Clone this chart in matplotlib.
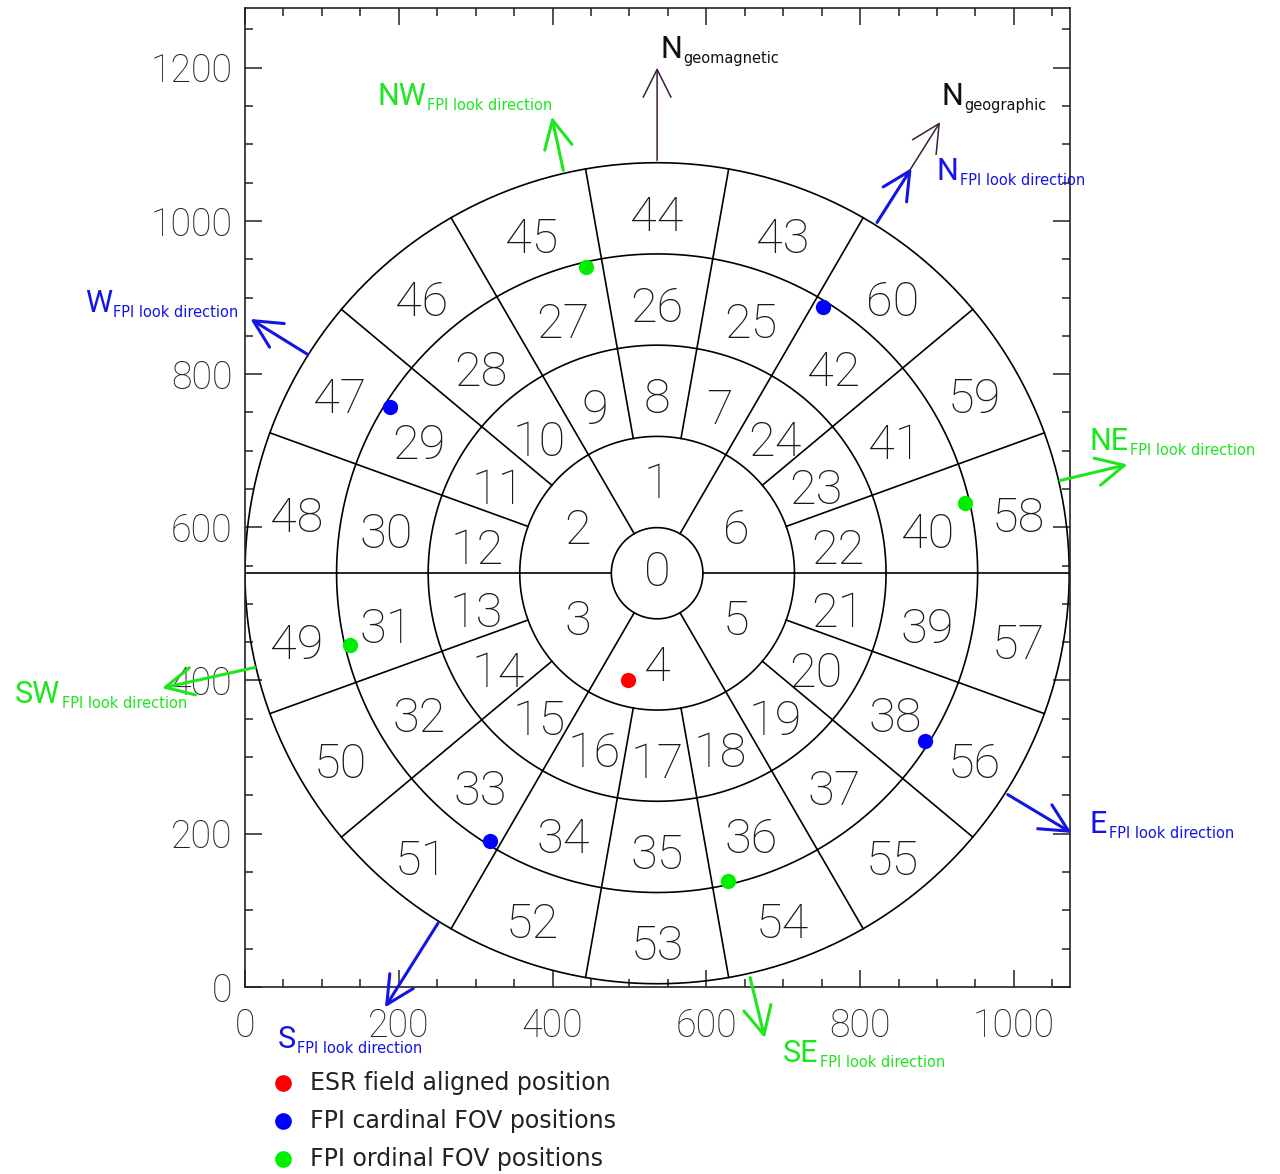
import numpy as np
import matplotlib
matplotlib.use("Agg")
import matplotlib.pyplot as plt
from matplotlib.ticker import MultipleLocator

plt.rcParams['font.family'] = ['Roboto', 'DejaVu Sans']

# grid geometry: centre, outer radius, ring edges in units of R/9
centre_x, centre_y = 536, 540
outer_r = 536
ring_edges = [1, 3, 5, 7, 9]
ring_sectors = [1, 6, 18, 18, 18]
ring_first_id = [0, 1, 7, 25, 43]
ring_first_angle = [0, 90, 70, 70, 70]
ring_label_drop = [0, 3, 9, 9, 9]   # px, labels sit a little low in the outer rings

# FOV positions
esr_x, esr_y = [498], [401]
cardinal_x = [752, 189, 319, 884]
cardinal_y = [888, 757, 190, 321]
ordinal_x = [444, 137, 628, 936]
ordinal_y = [940, 446, 138, 632]

# look-direction arrows: (tail x, tail y, tip x, tip y)
fpi_names = ['N', 'W', 'S', 'E', 'NW', 'SW', 'SE', 'NE']
fpi_tail = [(822, 998), (81, 826), (251, 83), (992, 251),
            (414, 1066), (13, 417), (657, 12), (1060, 661)]
fpi_tip = [(867, 1069), (7, 872), (182, -27), (1075, 201),
           (399, 1136), (-108, 390), (676, -67), (1148, 682)]
fpi_label_xy = [(900, 1053), (-208, 881), (42, -80), (1099, 201),
                (172, 1151), (-299, 371), (700, -98), (1099, 701)]

geomag_tail, geomag_tip = (536, 1079), (536, 1200)
geog_tail, geog_tip = (822, 998), (904, 1129)

BLUE = '#1414e6'
GREEN = '#1ee61e'
PURPLE = '#3a1f3a'

fig = plt.figure(figsize=(12.8, 11.74), dpi=100)
ax = fig.add_axes([245 / 1280, 1 - 986.8 / 1174, 825 / 1280, 978.8 / 1174])
ax.set_xlim(0, 1073)
ax.set_ylim(0, 1278)

unit = outer_r / 9.0
theta = np.linspace(0, 2 * np.pi, 721)
for r in ring_edges:
    ax.plot(centre_x + r * unit * np.cos(theta), centre_y + r * unit * np.sin(theta),
            color='black', lw=1.2)


def sector_label(x, y, txt, drop):
    ax.annotate(txt, xy=(x, y), xytext=(0, -drop * 0.72), textcoords='offset points',
                fontsize=35, fontweight='light', ha='center', va='center',
                color='#1a1a1a')


# sector boundaries and numbers
for i in range(1, len(ring_edges)):
    r0, r1 = ring_edges[i - 1] * unit, ring_edges[i] * unit
    n = ring_sectors[i]
    step = 360.0 / n
    for k in range(n):
        a = np.radians(ring_first_angle[i] + step / 2 + k * step)
        ax.plot([centre_x + r0 * np.cos(a), centre_x + r1 * np.cos(a)],
                [centre_y + r0 * np.sin(a), centre_y + r1 * np.sin(a)],
                color='black', lw=1.2)
    rm = 0.5 * (r0 + r1)
    for k in range(n):
        a = np.radians(ring_first_angle[i] + k * step)
        sector_label(centre_x + rm * np.cos(a), centre_y + rm * np.sin(a),
                     str(ring_first_id[i] + k), ring_label_drop[i])
sector_label(centre_x, centre_y, str(ring_first_id[0]), ring_label_drop[0])

ax.plot(esr_x, esr_y, 'o', color='#ff0000', ms=11, mec='none')
ax.plot(cardinal_x, cardinal_y, 'o', color='#0000ff', ms=11, mec='none')
ax.plot(ordinal_x, ordinal_y, 'o', color='#00ee00', ms=11, mec='none')


def arrow(tail, tip, color, lw):
    ax.annotate('', xy=tip, xytext=tail, annotation_clip=False,
                arrowprops=dict(arrowstyle='->,head_length=1.0,head_width=0.5',
                                mutation_scale=20, color=color, lw=lw,
                                shrinkA=0, shrinkB=0))


def label(xy, main, sub, color):
    t = ax.text(xy[0], xy[1], main, fontsize=22, fontweight='normal',
                color=color, ha='left', va='baseline', clip_on=False)
    ax.annotate(sub, xy=(1, 0), xycoords=t, xytext=(1, -1.5), textcoords='offset points',
                fontsize=10.5, family='DejaVu Sans', color=color,
                ha='left', va='bottom', annotation_clip=False)


arrow(geog_tail, geog_tip, PURPLE, 1.1)
arrow(geomag_tail, geomag_tip, PURPLE, 1.1)
for name, tail, tip, lxy in zip(fpi_names, fpi_tail, fpi_tip, fpi_label_xy):
    col = BLUE if len(name) == 1 else GREEN
    arrow(tail, tip, col, 2.2)
    label(lxy, name, 'FPI look direction', col)

label((540, 1213), 'N', 'geomagnetic', '#111111')
label((906, 1151), 'N', 'geographic', '#111111')

# axes styling
ax.xaxis.set_major_locator(MultipleLocator(200))
ax.xaxis.set_minor_locator(MultipleLocator(50))
ax.yaxis.set_major_locator(MultipleLocator(200))
ax.yaxis.set_minor_locator(MultipleLocator(50))
ax.tick_params(which='both', direction='in', top=True, right=True,
               color='#222222', width=1.1)
ax.tick_params(which='major', length=12, labelsize=27, colors='#222222')
ax.tick_params(axis='x', which='major', pad=15)
ax.tick_params(axis='y', which='major', pad=9)
ax.tick_params(which='minor', length=6)
for lab in ax.get_xticklabels() + ax.get_yticklabels():
    lab.set_fontweight('light')
for s in ax.spines.values():
    s.set_linewidth(1.2)
    s.set_color('#222222')

# key below the plot
key_items = [('#ff0000', 'ESR field aligned position'),
             ('#0000ff', 'FPI cardinal FOV positions'),
             ('#00ee00', 'FPI ordinal FOV positions')]
for i, (c, txt) in enumerate(key_items):
    yk = -126 - 49.6 * i
    ax.plot([49], [yk], 'o', color=c, ms=12, mec='none', clip_on=False)
    ax.text(84, yk, txt, fontsize=17, family='DejaVu Sans', color='#222222',
            va='center', ha='left', clip_on=False)

fig.savefig('out.png', dpi=100)
